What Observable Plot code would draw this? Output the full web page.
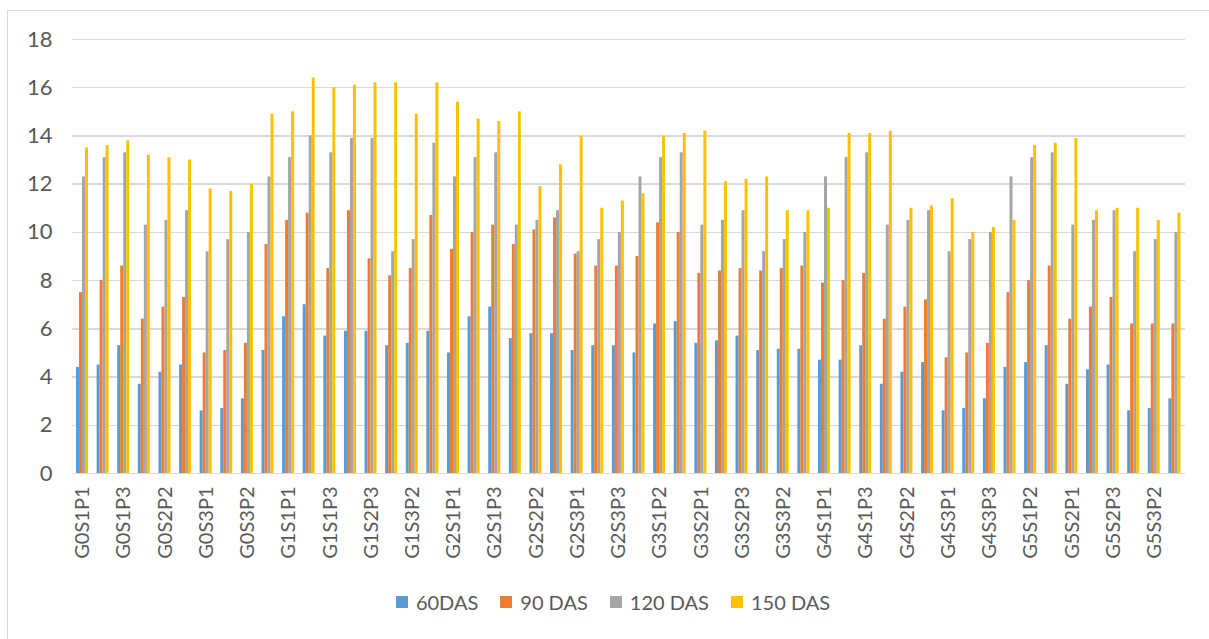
<!DOCTYPE html>
<html>
<head>
<meta charset="utf-8">
<script src="https://cdn.jsdelivr.net/npm/d3@7"></script>
<script src="https://cdn.jsdelivr.net/npm/@observablehq/plot@0.6"></script>
<style>
  html, body { margin: 0; padding: 0; background: #fff; }
  #wrap { position: relative; width: 1209px; height: 639px; overflow: hidden; font-family: Lato, "Open Sans", sans-serif; }
  #frame { position: absolute; left: 7px; top: 10px; width: 1400px; height: 800px; border-left: 1.5px solid #d9d9d9; border-top: 1.5px solid #d9d9d9; }
  #chart { position: absolute; left: 0; top: 0; }
  #legend { position: absolute; left: 0; top: 590px; width: 1226px; display: flex; justify-content: center; align-items: center; font-size: 20px; color: #595959; }
  .item { display: flex; align-items: center; margin: 0 11px; }
  .sw { width: 12px; height: 12px; margin-right: 8px; }
</style>
</head>
<body>
<div id="wrap">
  <div id="frame"></div>
  <div id="chart"></div>
  <div id="legend"></div>
</div>
<script>
const categories = [
  "G0S1P1","G0S1P2","G0S1P3","G0S2P1","G0S2P2","G0S2P3","G0S3P1","G0S3P1","G0S3P2","G0S3P3",
  "G1S1P1","G1S1P2","G1S1P3","G1S2P1","G1S2P3","G1S3P1","G1S3P2","G1S3P3",
  "G2S1P1","G2S1P2","G2S1P3","G2S2P1","G2S2P2","G2S2P3","G2S3P1","G2S3P2","G2S3P3",
  "G3S1P1","G3S1P2","G3S1P3","G3S2P1","G3S2P2","G3S2P3","G3S3P1","G3S3P2","G3S3P3",
  "G4S1P1","G4S1P2","G4S1P3","G4S2P1","G4S2P2","G4S2P3","G4S3P1","G4S3P2","G4S3P3",
  "G5S1P1","G5S1P2","G5S1P3","G5S2P1","G5S2P2","G5S2P3","G5S3P1","G5S3P2","G5S3P3"
];
const seriesNames = ["60DAS", "90 DAS", "120 DAS", "150 DAS"];
const seriesColors = ["#5b9bd5", "#ed7d31", "#a5a5a5", "#ffc000"];
const yTicks = [0, 2, 4, 6, 8, 10, 12, 14, 16, 18];

const das60 = [4.4,4.5,5.3,3.7,4.2,4.5,2.6,2.7,3.1,5.1,
  6.5,7.0,5.7,5.9,5.9,5.3,5.4,5.9,
  5.0,6.5,6.9,5.6,5.8,5.8,5.1,5.3,5.3,
  5.0,6.2,6.3,5.4,5.5,5.7,5.1,5.15,5.15,
  4.7,4.7,5.3,3.7,4.2,4.6,2.6,2.7,3.1,
  4.4,4.6,5.3,3.7,4.3,4.5,2.6,2.7,3.1];
const das90 = [7.5,8.0,8.6,6.4,6.9,7.3,5.0,5.1,5.4,9.5,
  10.5,10.8,8.5,10.9,8.9,8.2,8.5,10.7,
  9.3,10.0,10.3,9.5,10.1,10.6,9.1,8.6,8.6,
  9.0,10.4,10.0,8.3,8.4,8.5,8.4,8.5,8.6,
  7.9,8.0,8.3,6.4,6.9,7.2,4.8,5.0,5.4,
  7.5,8.0,8.6,6.4,6.9,7.3,6.2,6.2,6.2];
const das120 = [12.3,13.1,13.3,10.3,10.5,10.9,9.2,9.7,10.0,12.3,
  13.1,14.0,13.3,13.9,13.9,9.2,9.7,13.7,
  12.3,13.1,13.3,10.3,10.5,10.9,9.2,9.7,10.0,
  12.3,13.1,13.3,10.3,10.5,10.9,9.2,9.7,10.0,
  12.3,13.1,13.3,10.3,10.5,10.9,9.2,9.7,10.0,
  12.3,13.1,13.3,10.3,10.5,10.9,9.2,9.7,10.0];
const das150 = [13.5,13.6,13.8,13.2,13.1,13.0,11.8,11.7,12.0,14.9,
  15.0,16.4,16.0,16.1,16.2,16.2,14.9,16.2,
  15.4,14.7,14.6,15.0,11.9,12.8,14.0,11.0,11.3,
  11.6,14.0,14.1,14.2,12.1,12.2,12.3,10.9,10.9,
  11.0,14.1,14.1,14.2,11.0,11.1,11.4,10.0,10.2,
  10.5,13.6,13.7,13.9,10.9,11.0,11.0,10.5,10.8];

const seriesValues = [das60, das90, das120, das150];
const rows = [];
categories.forEach((c, i) => {
  seriesNames.forEach((s, k) => {
    rows.push({idx: i, category: c, series: s, value: seriesValues[k][i]});
  });
});

const chart = Plot.plot({
  width: 1209,
  height: 590,
  marginLeft: 72,
  marginRight: 24,
  marginTop: 39,
  marginBottom: 117,
  style: {fontFamily: "Lato, 'Open Sans', sans-serif", fontSize: "20px", color: "#595959", background: "transparent", overflow: "visible"},
  fx: {
    domain: d3.range(categories.length),
    padding: 0,
    label: null,
    tickRotate: -90,
    tickSize: 0,
    tickPadding: 13,
    tickFormat: i => (i % 2 === 0 ? categories[i] : "")
  },
  x: {domain: seriesNames, paddingInner: 0.12, paddingOuter: 0.84, axis: null},
  y: {domain: [0, 18], label: null},
  color: {domain: seriesNames, range: seriesColors},
  marks: [
    Plot.ruleY(yTicks, {stroke: "#d9d9d9", strokeWidth: 1.5, shapeRendering: "crispEdges"}),
    Plot.axisY({ticks: yTicks, tickSize: 0, tickPadding: 20, fontSize: 22, label: null}),
    Plot.barY(rows, {fx: "idx", x: "series", y: "value", fill: "series"})
  ]
});
document.getElementById("chart").appendChild(chart);

const legend = document.getElementById("legend");
seriesNames.forEach((s, k) => {
  const item = document.createElement("div");
  item.className = "item";
  const sw = document.createElement("div");
  sw.className = "sw";
  sw.style.background = seriesColors[k];
  const t = document.createElement("span");
  t.textContent = s;
  item.appendChild(sw);
  item.appendChild(t);
  legend.appendChild(item);
});
</script>
</body>
</html>
